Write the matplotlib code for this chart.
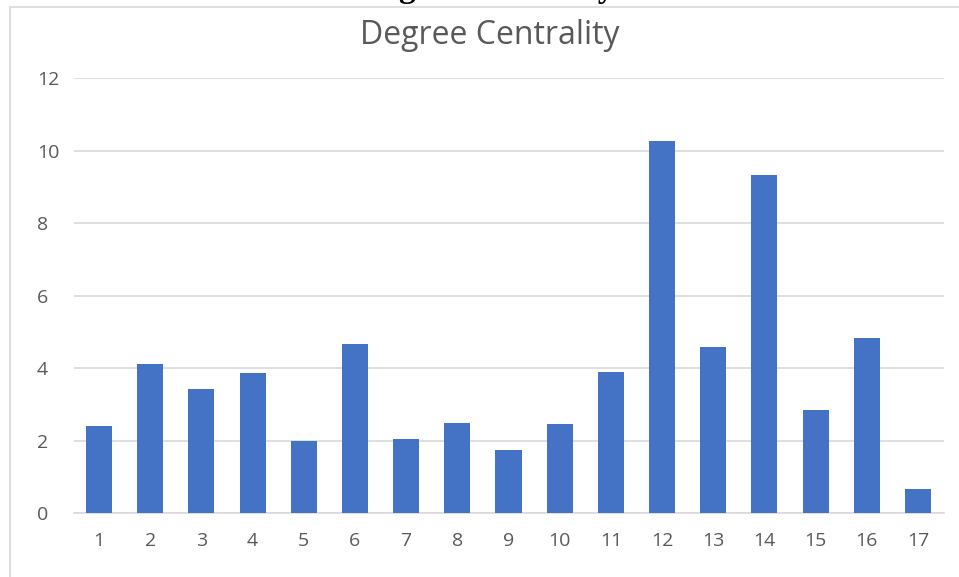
import matplotlib.pyplot as plt
from matplotlib.patches import Rectangle

# Degree centrality per node
nodes = [str(i) for i in range(1, 18)]
centrality = [2.40, 4.11, 3.42, 3.86, 1.99, 4.66, 2.04, 2.48, 1.74,
              2.46, 3.89, 10.26, 4.58, 9.32, 2.84, 4.83, 0.66]
yticks = [0, 2, 4, 6, 8, 10, 12]

W, H = 959, 577
fig = plt.figure(figsize=(W / 100, H / 100), dpi=100)

# Chart border (light gray frame, cut off at right and bottom)
fig.patches.append(Rectangle((9.5 / W, -0.01), 1.0, 1 - 6.5 / H + 0.01,
                             transform=fig.transFigure, fill=False,
                             edgecolor='#d9d9d9', linewidth=1.2))

# Cropped caption above the chart (only descenders visible)
fig.text(487 / W, 1 + 3.0 / H, 'Degree Centrality', ha='center', va='baseline',
         family='Liberation Serif', fontweight='bold', fontsize=24, color='black')

ax = fig.add_axes([73.5 / W, 64 / H, 870 / W, 435 / H])
ax.bar(range(len(nodes)), centrality, width=0.51, color='#4472C4', zorder=3)

ax.set_xlim(-0.5, len(nodes) - 0.5)
ax.set_ylim(0, 12)
ax.set_yticks(yticks)
ax.set_xticks(range(len(nodes)))
ax.set_xticklabels(nodes)

ax.grid(axis='y', color='#d9d9d9', linewidth=1.2, zorder=0)
for side in ['top', 'right', 'left']:
    ax.spines[side].set_visible(False)
ax.spines['bottom'].set_color('#d9d9d9')
ax.spines['bottom'].set_linewidth(1.2)

ax.tick_params(axis='both', length=0, labelsize=14, labelcolor='#595959')
ax.tick_params(axis='x', pad=14)
ax.tick_params(axis='y', pad=26.5)
for label in ax.get_yticklabels():
    label.set_family('Open Sans')
    label.set_horizontalalignment('left')
for label in ax.get_xticklabels():
    label.set_family('Open Sans')

fig.text(490 / W, 1 - 35 / H, 'Degree Centrality', ha='center', va='center',
         family='Open Sans', fontsize=23, color='#595959')

fig.savefig('out.png', dpi=100)
